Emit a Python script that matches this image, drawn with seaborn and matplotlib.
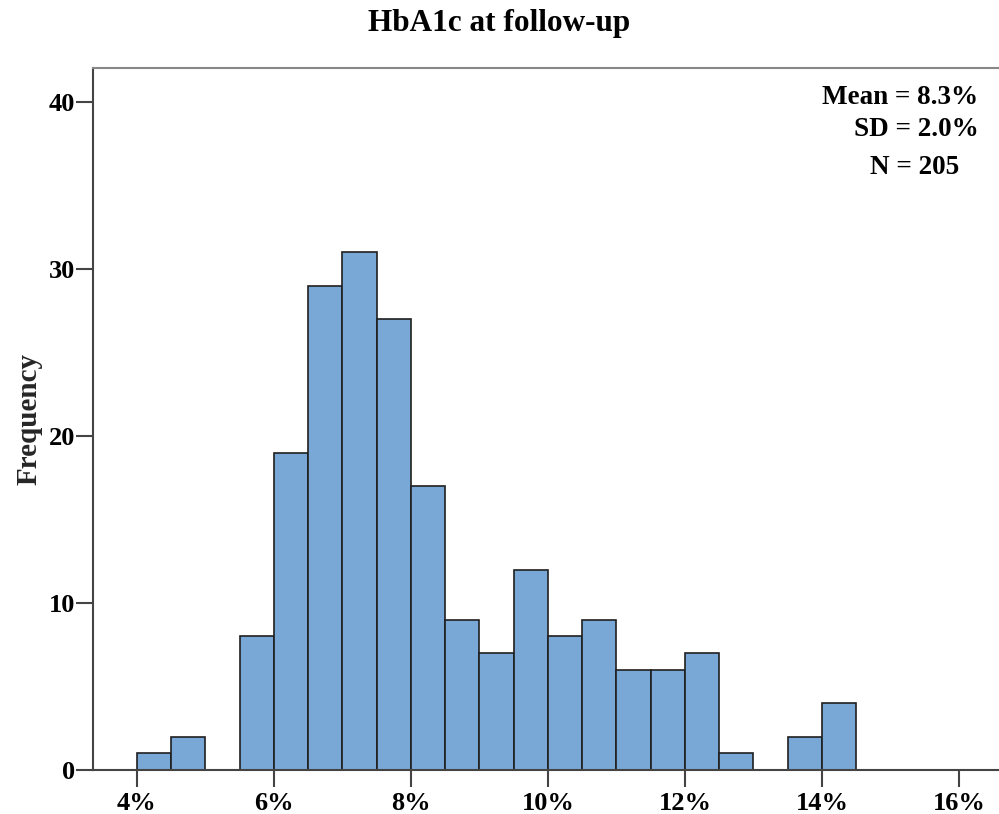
import numpy as np
import pandas as pd
import matplotlib
matplotlib.use('Agg')
import matplotlib.pyplot as plt
import seaborn as sns

# histogram bins (HbA1c %, width 0.5) and frequencies
bin_left = [4.0, 4.5, 5.0, 5.5, 6.0, 6.5, 7.0, 7.5, 8.0, 8.5, 9.0,
            9.5, 10.0, 10.5, 11.0, 11.5, 12.0, 12.5, 13.0, 13.5, 14.0]
counts = [1, 2, 0, 8, 19, 29, 31, 27, 17, 9, 7,
          12, 8, 9, 6, 6, 7, 1, 0, 2, 4]
x_ticks = [4, 6, 8, 10, 12, 14, 16]
y_ticks = [0, 10, 20, 30, 40]
stats_lines = ['Mean = 8.3%', 'SD = 2.0%', 'N = 205']

df = pd.DataFrame({'hba1c': np.array(bin_left) + 0.25, 'freq': counts})
edges = list(bin_left) + [bin_left[-1] + 0.5]

sns.set_style('white')
plt.rcParams['font.family'] = ['Liberation Serif', 'DejaVu Serif']
plt.rcParams['font.weight'] = 'bold'
plt.rcParams['text.color'] = 'black'
plt.rcParams['xtick.color'] = 'black'
plt.rcParams['ytick.color'] = 'black'

fig = plt.figure(figsize=(9.99, 8.14), dpi=100)
ax = fig.add_axes([93/999, 1-770/814, 1-93/999, (770-68)/814])

sns.histplot(data=df, x='hba1c', weights='freq', bins=edges, ax=ax,
             color='#79a8d6', alpha=1, edgecolor='#1f1f1f', linewidth=1.2)

ax.set_xlim(3.358, 16.584)
ax.set_ylim(0, 42.04)
ax.set_xticks(x_ticks)
ax.set_xticklabels([f'{t}%' for t in x_ticks])
ax.set_yticks(y_ticks)
ax.tick_params(axis='both', direction='out', length=12, width=1.5,
               color='#444444', labelsize=19, left=True, bottom=True)
ax.tick_params(axis='y', pad=1)
ax.tick_params(axis='x', pad=3.5)
for lab in ax.get_xticklabels() + ax.get_yticklabels():
    lab.set_fontweight('bold')

ax.spines['right'].set_visible(False)
for side in ['left', 'bottom']:
    ax.spines[side].set_color('#444444')
    ax.spines[side].set_linewidth(1.5)
ax.spines['top'].set_color('#888888')
ax.spines['top'].set_linewidth(1.5)

ax.set_xlabel('')
ax.set_ylabel('Frequency', fontsize=21, fontweight='bold', labelpad=4)
fig.text(0.5, 1-23/814, 'HbA1c at follow-up', ha='center', va='center',
         fontsize=22.5, fontweight='bold')

# summary statistics box (top right)
pos = [(978, 97), (979, 129), (959, 168)]
for txt, (px, py) in zip(stats_lines, pos):
    fig.text(px/999, 1-py/814, txt, ha='right', va='center',
             fontsize=19.5, fontweight='bold')

fig.savefig('out.png', dpi=100)
